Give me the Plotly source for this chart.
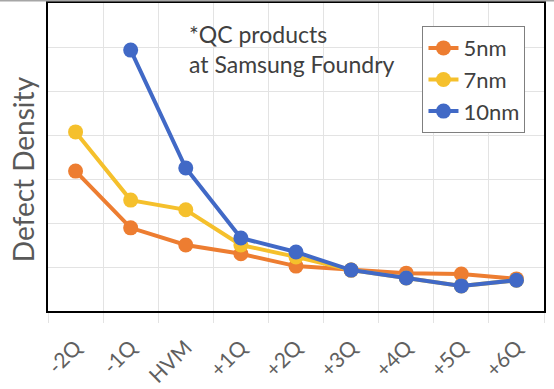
import plotly.graph_objects as go

categories = ["-2Q", "-1Q", "HVM", "+1Q", "+2Q", "+3Q", "+4Q", "+5Q", "+6Q"]
nm5 = [3.18, 1.89, 1.50, 1.30, 1.02, 0.93, 0.86, 0.84, 0.73]
nm7 = [4.07, 2.52, 2.30, 1.50, 1.23, 0.93, 0.75, 0.57, 0.70]
nm10 = [None, 5.93, 3.25, 1.66, 1.34, 0.93, 0.75, 0.57, 0.70]

series = [("5nm", nm5, "#ED7D31"), ("7nm", nm7, "#F5C02C"), ("10nm", nm10, "#4169C6")]

fig = go.Figure()
for name, vals, col in series:
    fig.add_trace(go.Scatter(
        x=categories, y=vals, name=name, mode="lines+markers",
        line=dict(color=col, width=4),
        marker=dict(color=col, size=15),
    ))

fig.update_layout(
    width=554, height=389,
    margin=dict(l=48, r=10, t=3, b=78),
    paper_bgcolor="white", plot_bgcolor="white",
    font=dict(family="Lato, Noto Sans, sans-serif", color="#595959"),
    showlegend=True,
    legend=dict(
        x=0.755, y=0.925, xanchor="left", yanchor="top",
        bordercolor="#7f7f7f", borderwidth=1, bgcolor="white",
        font=dict(size=22, color="#404040"),
        itemwidth=30, tracegroupgap=0,
    ),
    annotations=[
        dict(
            text="*QC products<br>at Samsung Foundry",
            xref="paper", yref="paper", x=0.28, y=0.952,
            xanchor="left", yanchor="top", align="left", showarrow=False,
            font=dict(size=23, color="#404040"),
        ),
        dict(
            text="Defect Density", textangle=-90,
            xref="paper", yref="paper", x=-0.05, y=0.461,
            xanchor="center", yanchor="middle", showarrow=False,
            font=dict(size=28, color="#595959"),
        ),
    ],
    shapes=[dict(
        type="line", xref="paper", yref="paper",
        x0=-0.1, x1=1.03, y0=1.0085, y1=1.0085,
        line=dict(color="#a6a6a6", width=2),
    )],
)

fig.update_xaxes(
    type="category", tickson="boundaries", ticks="outside", ticklen=10,
    tickcolor="#e3e3e3", tickwidth=1, automargin=False,
    showgrid=True, gridcolor="#e3e3e3", gridwidth=1,
    showline=True, linecolor="black", linewidth=2, mirror=True,
    tickangle=-45, tickfont=dict(size=21, color="#606060"),
    ticklabelstandoff=14,
    range=[-0.5, 8.5],
)
fig.update_yaxes(
    range=[0, 7], dtick=1, showticklabels=False, ticks="", automargin=False,
    showgrid=True, gridcolor="#e3e3e3", gridwidth=1, zeroline=False,
    showline=True, linecolor="black", linewidth=2, mirror=True,
)

fig.write_html("out.html", config={"displayModeBar": False},
               post_script="document.body.style.margin='0';")
